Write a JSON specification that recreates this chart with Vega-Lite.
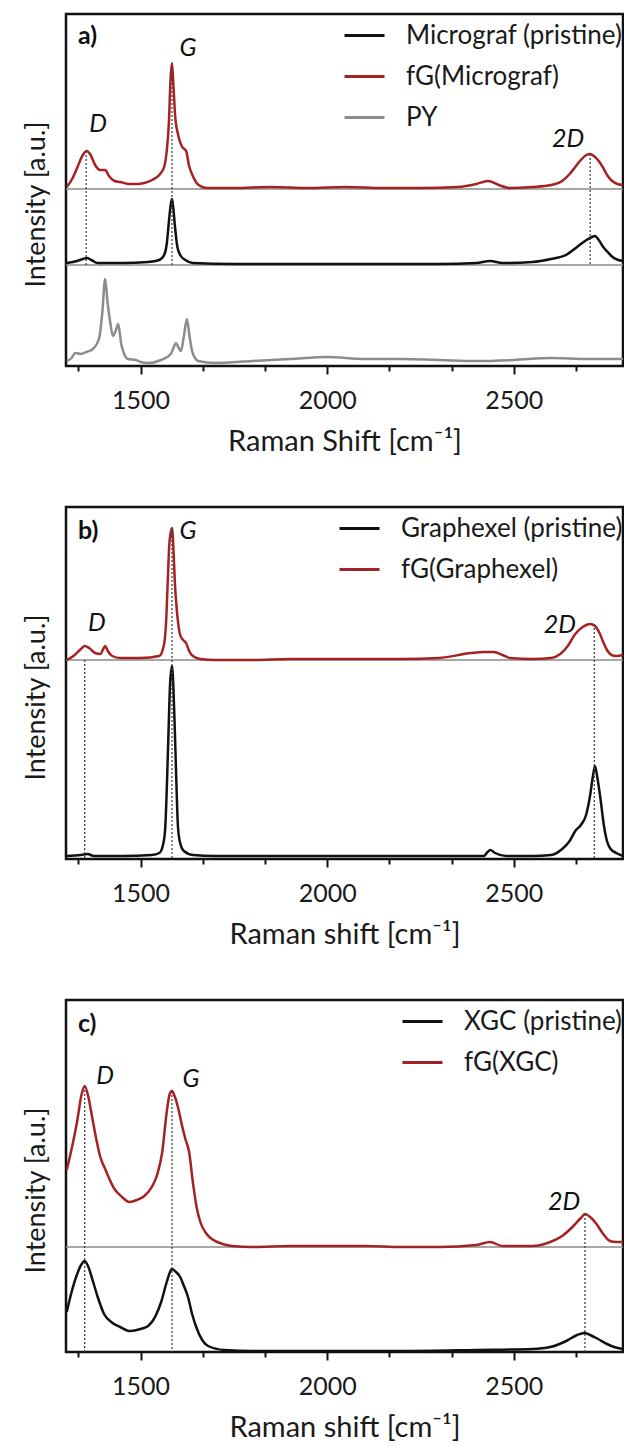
{
  "$schema": "https://vega.github.io/schema/vega-lite/v6.json",
  "padding": {"left": 20, "top": 12, "right": 2, "bottom": 0},
  "spacing": 47,
  "config": {
    "font": "Lato",
    "view": {"stroke": "#111", "strokeWidth": 2.5},
    "axis": {"labelFont": "Lato", "titleFont": "Lato", "titleFontWeight": "normal", "labelColor": "#1a1a1a", "titleColor": "#1a1a1a", "grid": false, "domain": false},
    "legend": {"title": null, "orient": "top-right", "offset": 0, "padding": 0, "symbolType": "stroke", "symbolSize": 1600, "symbolStrokeWidth": 3, "labelFont": "Lato", "labelFontSize": 26, "labelColor": "#1a1a1a", "labelOffset": 20, "rowPadding": 6, "labelLimit": 400}
  },
  "resolve": {"scale": {"color": "independent", "y": "independent"}, "legend": {"color": "independent"}},
  "datasets": {
    "a": [
      {"x":1302,"y":179,"s":"fG(Micrograf)"},{"x":1318,"y":188,"s":"fG(Micrograf)"},{"x":1332,"y":200,"s":"fG(Micrograf)"},{"x":1345,"y":211,"s":"fG(Micrograf)"},{"x":1356,"y":215,"s":"fG(Micrograf)"},{"x":1366,"y":211,"s":"fG(Micrograf)"},{"x":1378,"y":201,"s":"fG(Micrograf)"},{"x":1392,"y":196,"s":"fG(Micrograf)"},{"x":1405,"y":196,"s":"fG(Micrograf)"},{"x":1415,"y":190,"s":"fG(Micrograf)"},{"x":1430,"y":185,"s":"fG(Micrograf)"},{"x":1445,"y":184,"s":"fG(Micrograf)"},{"x":1470,"y":182,"s":"fG(Micrograf)"},{"x":1490,"y":182,"s":"fG(Micrograf)"},{"x":1510,"y":183,"s":"fG(Micrograf)"},{"x":1531,"y":186,"s":"fG(Micrograf)"},{"x":1550,"y":191,"s":"fG(Micrograf)"},{"x":1563,"y":199,"s":"fG(Micrograf)"},{"x":1570,"y":215,"s":"fG(Micrograf)"},{"x":1576,"y":245,"s":"fG(Micrograf)"},{"x":1580,"y":285,"s":"fG(Micrograf)"},{"x":1584,"y":303,"s":"fG(Micrograf)"},{"x":1588,"y":280,"s":"fG(Micrograf)"},{"x":1593,"y":248,"s":"fG(Micrograf)"},{"x":1600,"y":232,"s":"fG(Micrograf)"},{"x":1610,"y":220,"s":"fG(Micrograf)"},{"x":1617,"y":217,"s":"fG(Micrograf)"},{"x":1622,"y":215,"s":"fG(Micrograf)"},{"x":1630,"y":200,"s":"fG(Micrograf)"},{"x":1640,"y":190,"s":"fG(Micrograf)"},{"x":1650,"y":183,"s":"fG(Micrograf)"},{"x":1665,"y":179,"s":"fG(Micrograf)"},{"x":1680,"y":178,"s":"fG(Micrograf)"},{"x":1750,"y":178,"s":"fG(Micrograf)"},{"x":1850,"y":179,"s":"fG(Micrograf)"},{"x":1950,"y":178,"s":"fG(Micrograf)"},{"x":2050,"y":179,"s":"fG(Micrograf)"},{"x":2150,"y":178,"s":"fG(Micrograf)"},{"x":2250,"y":178,"s":"fG(Micrograf)"},{"x":2350,"y":179,"s":"fG(Micrograf)"},{"x":2400,"y":182,"s":"fG(Micrograf)"},{"x":2431,"y":185,"s":"fG(Micrograf)"},{"x":2460,"y":181,"s":"fG(Micrograf)"},{"x":2490,"y":178,"s":"fG(Micrograf)"},{"x":2550,"y":179,"s":"fG(Micrograf)"},{"x":2600,"y":181,"s":"fG(Micrograf)"},{"x":2630,"y":185,"s":"fG(Micrograf)"},{"x":2650,"y":192,"s":"fG(Micrograf)"},{"x":2665,"y":199,"s":"fG(Micrograf)"},{"x":2680,"y":206,"s":"fG(Micrograf)"},{"x":2695,"y":211,"s":"fG(Micrograf)"},{"x":2705,"y":212,"s":"fG(Micrograf)"},{"x":2715,"y":210,"s":"fG(Micrograf)"},{"x":2728,"y":205,"s":"fG(Micrograf)"},{"x":2740,"y":198,"s":"fG(Micrograf)"},{"x":2752,"y":190,"s":"fG(Micrograf)"},{"x":2764,"y":185,"s":"fG(Micrograf)"},{"x":2778,"y":182,"s":"fG(Micrograf)"},{"x":2793,"y":181,"s":"fG(Micrograf)"},
      {"x":1302,"y":103,"s":"Micrograf (pristine)"},{"x":1330,"y":105,"s":"Micrograf (pristine)"},{"x":1345,"y":107,"s":"Micrograf (pristine)"},{"x":1356,"y":108,"s":"Micrograf (pristine)"},{"x":1368,"y":106,"s":"Micrograf (pristine)"},{"x":1385,"y":103,"s":"Micrograf (pristine)"},{"x":1450,"y":103,"s":"Micrograf (pristine)"},{"x":1520,"y":104,"s":"Micrograf (pristine)"},{"x":1550,"y":106,"s":"Micrograf (pristine)"},{"x":1563,"y":111,"s":"Micrograf (pristine)"},{"x":1570,"y":122,"s":"Micrograf (pristine)"},{"x":1576,"y":145,"s":"Micrograf (pristine)"},{"x":1581,"y":162,"s":"Micrograf (pristine)"},{"x":1584,"y":167,"s":"Micrograf (pristine)"},{"x":1587,"y":160,"s":"Micrograf (pristine)"},{"x":1592,"y":140,"s":"Micrograf (pristine)"},{"x":1598,"y":120,"s":"Micrograf (pristine)"},{"x":1606,"y":111,"s":"Micrograf (pristine)"},{"x":1620,"y":106,"s":"Micrograf (pristine)"},{"x":1640,"y":103,"s":"Micrograf (pristine)"},{"x":1750,"y":102,"s":"Micrograf (pristine)"},{"x":1900,"y":102,"s":"Micrograf (pristine)"},{"x":2100,"y":102,"s":"Micrograf (pristine)"},{"x":2300,"y":102,"s":"Micrograf (pristine)"},{"x":2400,"y":103,"s":"Micrograf (pristine)"},{"x":2437,"y":105,"s":"Micrograf (pristine)"},{"x":2470,"y":103,"s":"Micrograf (pristine)"},{"x":2550,"y":104,"s":"Micrograf (pristine)"},{"x":2600,"y":107,"s":"Micrograf (pristine)"},{"x":2640,"y":111,"s":"Micrograf (pristine)"},{"x":2670,"y":119,"s":"Micrograf (pristine)"},{"x":2695,"y":126,"s":"Micrograf (pristine)"},{"x":2710,"y":129,"s":"Micrograf (pristine)"},{"x":2718,"y":130,"s":"Micrograf (pristine)"},{"x":2728,"y":126,"s":"Micrograf (pristine)"},{"x":2740,"y":119,"s":"Micrograf (pristine)"},{"x":2752,"y":114,"s":"Micrograf (pristine)"},{"x":2765,"y":109,"s":"Micrograf (pristine)"},{"x":2780,"y":106,"s":"Micrograf (pristine)"},{"x":2793,"y":105,"s":"Micrograf (pristine)"},
      {"x":1302,"y":5,"s":"PY"},{"x":1315,"y":8,"s":"PY"},{"x":1325,"y":13,"s":"PY"},{"x":1340,"y":12,"s":"PY"},{"x":1355,"y":14,"s":"PY"},{"x":1372,"y":17,"s":"PY"},{"x":1389,"y":28,"s":"PY"},{"x":1397,"y":52,"s":"PY"},{"x":1405,"y":87,"s":"PY"},{"x":1411,"y":65,"s":"PY"},{"x":1418,"y":45,"s":"PY"},{"x":1426,"y":30,"s":"PY"},{"x":1433,"y":35,"s":"PY"},{"x":1440,"y":42,"s":"PY"},{"x":1448,"y":22,"s":"PY"},{"x":1456,"y":12,"s":"PY"},{"x":1466,"y":7,"s":"PY"},{"x":1488,"y":6,"s":"PY"},{"x":1500,"y":4,"s":"PY"},{"x":1520,"y":3,"s":"PY"},{"x":1555,"y":6,"s":"PY"},{"x":1581,"y":12,"s":"PY"},{"x":1590,"y":20,"s":"PY"},{"x":1595,"y":23,"s":"PY"},{"x":1602,"y":18,"s":"PY"},{"x":1608,"y":15,"s":"PY"},{"x":1616,"y":30,"s":"PY"},{"x":1624,"y":47,"s":"PY"},{"x":1631,"y":30,"s":"PY"},{"x":1638,"y":15,"s":"PY"},{"x":1646,"y":8,"s":"PY"},{"x":1654,"y":5,"s":"PY"},{"x":1700,"y":3,"s":"PY"},{"x":1800,"y":5,"s":"PY"},{"x":1900,"y":7,"s":"PY"},{"x":2000,"y":9,"s":"PY"},{"x":2100,"y":7,"s":"PY"},{"x":2200,"y":7,"s":"PY"},{"x":2300,"y":6,"s":"PY"},{"x":2400,"y":5,"s":"PY"},{"x":2500,"y":6,"s":"PY"},{"x":2600,"y":8,"s":"PY"},{"x":2700,"y":7,"s":"PY"},{"x":2793,"y":7,"s":"PY"}
    ],
    "b": [
      {"x":1302,"y":199,"s":"fG(Graphexel)"},{"x":1320,"y":203,"s":"fG(Graphexel)"},{"x":1340,"y":210,"s":"fG(Graphexel)"},{"x":1350,"y":213,"s":"fG(Graphexel)"},{"x":1362,"y":211,"s":"fG(Graphexel)"},{"x":1378,"y":206,"s":"fG(Graphexel)"},{"x":1392,"y":205,"s":"fG(Graphexel)"},{"x":1400,"y":210,"s":"fG(Graphexel)"},{"x":1405,"y":213,"s":"fG(Graphexel)"},{"x":1412,"y":208,"s":"fG(Graphexel)"},{"x":1424,"y":203,"s":"fG(Graphexel)"},{"x":1445,"y":201,"s":"fG(Graphexel)"},{"x":1500,"y":201,"s":"fG(Graphexel)"},{"x":1550,"y":203,"s":"fG(Graphexel)"},{"x":1563,"y":215,"s":"fG(Graphexel)"},{"x":1568,"y":235,"s":"fG(Graphexel)"},{"x":1573,"y":280,"s":"fG(Graphexel)"},{"x":1577,"y":315,"s":"fG(Graphexel)"},{"x":1584,"y":331,"s":"fG(Graphexel)"},{"x":1588,"y":310,"s":"fG(Graphexel)"},{"x":1592,"y":275,"s":"fG(Graphexel)"},{"x":1598,"y":245,"s":"fG(Graphexel)"},{"x":1606,"y":224,"s":"fG(Graphexel)"},{"x":1614,"y":219,"s":"fG(Graphexel)"},{"x":1622,"y":216,"s":"fG(Graphexel)"},{"x":1630,"y":208,"s":"fG(Graphexel)"},{"x":1640,"y":203,"s":"fG(Graphexel)"},{"x":1660,"y":200,"s":"fG(Graphexel)"},{"x":1700,"y":199,"s":"fG(Graphexel)"},{"x":1800,"y":199,"s":"fG(Graphexel)"},{"x":1900,"y":200,"s":"fG(Graphexel)"},{"x":2000,"y":200,"s":"fG(Graphexel)"},{"x":2100,"y":200,"s":"fG(Graphexel)"},{"x":2200,"y":200,"s":"fG(Graphexel)"},{"x":2300,"y":201,"s":"fG(Graphexel)"},{"x":2386,"y":206,"s":"fG(Graphexel)"},{"x":2420,"y":207,"s":"fG(Graphexel)"},{"x":2447,"y":207,"s":"fG(Graphexel)"},{"x":2470,"y":204,"s":"fG(Graphexel)"},{"x":2490,"y":201,"s":"fG(Graphexel)"},{"x":2550,"y":200,"s":"fG(Graphexel)"},{"x":2600,"y":201,"s":"fG(Graphexel)"},{"x":2625,"y":205,"s":"fG(Graphexel)"},{"x":2645,"y":213,"s":"fG(Graphexel)"},{"x":2665,"y":225,"s":"fG(Graphexel)"},{"x":2685,"y":232,"s":"fG(Graphexel)"},{"x":2705,"y":235,"s":"fG(Graphexel)"},{"x":2718,"y":233,"s":"fG(Graphexel)"},{"x":2730,"y":226,"s":"fG(Graphexel)"},{"x":2740,"y":217,"s":"fG(Graphexel)"},{"x":2750,"y":209,"s":"fG(Graphexel)"},{"x":2762,"y":204,"s":"fG(Graphexel)"},{"x":2775,"y":203,"s":"fG(Graphexel)"},{"x":2793,"y":204,"s":"fG(Graphexel)"},
      {"x":1302,"y":3,"s":"Graphexel (pristine)"},{"x":1340,"y":4,"s":"Graphexel (pristine)"},{"x":1358,"y":5,"s":"Graphexel (pristine)"},{"x":1375,"y":3,"s":"Graphexel (pristine)"},{"x":1450,"y":3,"s":"Graphexel (pristine)"},{"x":1530,"y":4,"s":"Graphexel (pristine)"},{"x":1550,"y":6,"s":"Graphexel (pristine)"},{"x":1560,"y":14,"s":"Graphexel (pristine)"},{"x":1566,"y":31,"s":"Graphexel (pristine)"},{"x":1571,"y":80,"s":"Graphexel (pristine)"},{"x":1575,"y":130,"s":"Graphexel (pristine)"},{"x":1579,"y":175,"s":"Graphexel (pristine)"},{"x":1584,"y":193,"s":"Graphexel (pristine)"},{"x":1588,"y":170,"s":"Graphexel (pristine)"},{"x":1592,"y":125,"s":"Graphexel (pristine)"},{"x":1596,"y":75,"s":"Graphexel (pristine)"},{"x":1600,"y":33,"s":"Graphexel (pristine)"},{"x":1606,"y":16,"s":"Graphexel (pristine)"},{"x":1616,"y":8,"s":"Graphexel (pristine)"},{"x":1640,"y":4,"s":"Graphexel (pristine)"},{"x":1700,"y":3,"s":"Graphexel (pristine)"},{"x":1900,"y":3,"s":"Graphexel (pristine)"},{"x":2100,"y":3,"s":"Graphexel (pristine)"},{"x":2300,"y":3,"s":"Graphexel (pristine)"},{"x":2420,"y":3,"s":"Graphexel (pristine)"},{"x":2430,"y":7,"s":"Graphexel (pristine)"},{"x":2437,"y":9,"s":"Graphexel (pristine)"},{"x":2450,"y":6,"s":"Graphexel (pristine)"},{"x":2480,"y":3,"s":"Graphexel (pristine)"},{"x":2550,"y":3,"s":"Graphexel (pristine)"},{"x":2600,"y":4,"s":"Graphexel (pristine)"},{"x":2630,"y":10,"s":"Graphexel (pristine)"},{"x":2650,"y":18,"s":"Graphexel (pristine)"},{"x":2665,"y":28,"s":"Graphexel (pristine)"},{"x":2680,"y":34,"s":"Graphexel (pristine)"},{"x":2694,"y":44,"s":"Graphexel (pristine)"},{"x":2705,"y":64,"s":"Graphexel (pristine)"},{"x":2712,"y":82,"s":"Graphexel (pristine)"},{"x":2718,"y":93,"s":"Graphexel (pristine)"},{"x":2724,"y":82,"s":"Graphexel (pristine)"},{"x":2732,"y":62,"s":"Graphexel (pristine)"},{"x":2742,"y":33,"s":"Graphexel (pristine)"},{"x":2750,"y":18,"s":"Graphexel (pristine)"},{"x":2760,"y":10,"s":"Graphexel (pristine)"},{"x":2775,"y":6,"s":"Graphexel (pristine)"},{"x":2793,"y":3,"s":"Graphexel (pristine)"}
    ],
    "c": [
      {"x":1302,"y":182,"s":"fG(XGC)"},{"x":1315,"y":203,"s":"fG(XGC)"},{"x":1330,"y":231,"s":"fG(XGC)"},{"x":1342,"y":258,"s":"fG(XGC)"},{"x":1350,"y":266,"s":"fG(XGC)"},{"x":1360,"y":255,"s":"fG(XGC)"},{"x":1370,"y":235,"s":"fG(XGC)"},{"x":1380,"y":215,"s":"fG(XGC)"},{"x":1392,"y":195,"s":"fG(XGC)"},{"x":1405,"y":183,"s":"fG(XGC)"},{"x":1430,"y":163,"s":"fG(XGC)"},{"x":1450,"y":155,"s":"fG(XGC)"},{"x":1470,"y":150,"s":"fG(XGC)"},{"x":1490,"y":152,"s":"fG(XGC)"},{"x":1510,"y":156,"s":"fG(XGC)"},{"x":1530,"y":165,"s":"fG(XGC)"},{"x":1545,"y":178,"s":"fG(XGC)"},{"x":1558,"y":200,"s":"fG(XGC)"},{"x":1570,"y":240,"s":"fG(XGC)"},{"x":1578,"y":258,"s":"fG(XGC)"},{"x":1584,"y":261,"s":"fG(XGC)"},{"x":1592,"y":255,"s":"fG(XGC)"},{"x":1600,"y":245,"s":"fG(XGC)"},{"x":1610,"y":228,"s":"fG(XGC)"},{"x":1620,"y":213,"s":"fG(XGC)"},{"x":1630,"y":200,"s":"fG(XGC)"},{"x":1640,"y":170,"s":"fG(XGC)"},{"x":1650,"y":145,"s":"fG(XGC)"},{"x":1660,"y":130,"s":"fG(XGC)"},{"x":1675,"y":119,"s":"fG(XGC)"},{"x":1691,"y":113,"s":"fG(XGC)"},{"x":1720,"y":108,"s":"fG(XGC)"},{"x":1745,"y":106,"s":"fG(XGC)"},{"x":1800,"y":105,"s":"fG(XGC)"},{"x":1900,"y":106,"s":"fG(XGC)"},{"x":2000,"y":106,"s":"fG(XGC)"},{"x":2100,"y":106,"s":"fG(XGC)"},{"x":2200,"y":105,"s":"fG(XGC)"},{"x":2300,"y":105,"s":"fG(XGC)"},{"x":2400,"y":107,"s":"fG(XGC)"},{"x":2437,"y":110,"s":"fG(XGC)"},{"x":2470,"y":106,"s":"fG(XGC)"},{"x":2550,"y":106,"s":"fG(XGC)"},{"x":2598,"y":110,"s":"fG(XGC)"},{"x":2630,"y":116,"s":"fG(XGC)"},{"x":2660,"y":126,"s":"fG(XGC)"},{"x":2680,"y":134,"s":"fG(XGC)"},{"x":2691,"y":138,"s":"fG(XGC)"},{"x":2705,"y":135,"s":"fG(XGC)"},{"x":2720,"y":129,"s":"fG(XGC)"},{"x":2740,"y":118,"s":"fG(XGC)"},{"x":2758,"y":111,"s":"fG(XGC)"},{"x":2775,"y":110,"s":"fG(XGC)"},{"x":2793,"y":110,"s":"fG(XGC)"},
      {"x":1302,"y":40,"s":"XGC (pristine)"},{"x":1315,"y":60,"s":"XGC (pristine)"},{"x":1330,"y":78,"s":"XGC (pristine)"},{"x":1342,"y":88,"s":"XGC (pristine)"},{"x":1350,"y":91,"s":"XGC (pristine)"},{"x":1360,"y":85,"s":"XGC (pristine)"},{"x":1372,"y":71,"s":"XGC (pristine)"},{"x":1385,"y":55,"s":"XGC (pristine)"},{"x":1402,"y":38,"s":"XGC (pristine)"},{"x":1425,"y":29,"s":"XGC (pristine)"},{"x":1445,"y":25,"s":"XGC (pristine)"},{"x":1472,"y":21,"s":"XGC (pristine)"},{"x":1500,"y":23,"s":"XGC (pristine)"},{"x":1520,"y":26,"s":"XGC (pristine)"},{"x":1540,"y":36,"s":"XGC (pristine)"},{"x":1555,"y":50,"s":"XGC (pristine)"},{"x":1570,"y":70,"s":"XGC (pristine)"},{"x":1580,"y":81,"s":"XGC (pristine)"},{"x":1584,"y":83,"s":"XGC (pristine)"},{"x":1595,"y":80,"s":"XGC (pristine)"},{"x":1606,"y":75,"s":"XGC (pristine)"},{"x":1616,"y":66,"s":"XGC (pristine)"},{"x":1627,"y":55,"s":"XGC (pristine)"},{"x":1638,"y":38,"s":"XGC (pristine)"},{"x":1649,"y":25,"s":"XGC (pristine)"},{"x":1665,"y":12,"s":"XGC (pristine)"},{"x":1681,"y":6,"s":"XGC (pristine)"},{"x":1724,"y":2,"s":"XGC (pristine)"},{"x":1800,"y":1,"s":"XGC (pristine)"},{"x":2000,"y":1,"s":"XGC (pristine)"},{"x":2200,"y":1,"s":"XGC (pristine)"},{"x":2400,"y":2,"s":"XGC (pristine)"},{"x":2550,"y":3,"s":"XGC (pristine)"},{"x":2598,"y":5,"s":"XGC (pristine)"},{"x":2641,"y":11,"s":"XGC (pristine)"},{"x":2670,"y":17,"s":"XGC (pristine)"},{"x":2689,"y":19,"s":"XGC (pristine)"},{"x":2705,"y":17,"s":"XGC (pristine)"},{"x":2726,"y":13,"s":"XGC (pristine)"},{"x":2750,"y":8,"s":"XGC (pristine)"},{"x":2769,"y":5,"s":"XGC (pristine)"},{"x":2793,"y":3,"s":"XGC (pristine)"}
    ],
    "baseA": [{"y": 177}, {"y": 101}],
    "baseB": [{"y": 199}],
    "baseC": [{"y": 105}],
    "dotA": [{"x": 1354, "y": 215, "y2": 101}, {"x": 1584, "y": 303, "y2": 101}, {"x": 2705, "y": 212, "y2": 101}],
    "dotB": [{"x": 1350, "y": 199, "y2": 0}, {"x": 1584, "y": 331, "y2": 0}, {"x": 2716, "y": 235, "y2": 0}],
    "dotC": [{"x": 1350, "y": 266, "y2": 0}, {"x": 1584, "y": 261, "y2": 0}, {"x": 2691, "y": 138, "y2": 0}],
    "pkA": [{"x": 1386, "y": 242, "t": "D"}, {"x": 1627, "y": 318, "t": "G"}, {"x": 2646, "y": 227, "t": "2D"}],
    "pkB": [{"x": 1383, "y": 236, "t": "D"}, {"x": 1627, "y": 328, "t": "G"}, {"x": 2624, "y": 234, "t": "2D"}],
    "pkC": [{"x": 1405, "y": 276, "t": "D"}, {"x": 1635, "y": 273, "t": "G"}, {"x": 2635, "y": 150, "t": "2D"}],
    "lbA": [{"x": 1332, "y": 330, "t": "a)"}],
    "lbB": [{"x": 1332, "y": 328, "t": "b)"}],
    "lbC": [{"x": 1332, "y": 328, "t": "c)"}]
  },
  "vconcat": [
    {
      "width": 557, "height": 352,
      "resolve": {"axis": {"x": "independent", "y": "independent"}},
      "layer": [
        {"data": {"name": "baseA"}, "mark": {"type": "rule", "color": "#8a8a8a", "strokeWidth": 1.3},
         "encoding": {"y": {"field": "y", "type": "quantitative", "scale": {"domain": [0, 352], "nice": false, "zero": false}, "axis": null}}},
        {"data": {"name": "a"}, "mark": {"type": "line", "strokeWidth": 2.5, "interpolate": "monotone"},
         "encoding": {
           "x": {"field": "x", "type": "quantitative", "scale": {"domain": [1300, 2793], "nice": false, "zero": false},
                 "axis": {"title": "Raman Shift [cm⁻¹]", "orient": "bottom", "values": [1500, 2000, 2500], "format": "d", "labelOverlap": false, "labelFlush": false, "labelFontSize": 25, "titleFontSize": 29, "tickColor": "#111", "tickWidth": 2, "tickSize": 8, "labelPadding": 14, "titlePadding": 14}},
           "y": {"field": "y", "type": "quantitative", "scale": {"domain": [0, 352], "nice": false, "zero": false},
                 "axis": {"title": "Intensity [a.u.]", "orient": "left", "ticks": false, "labels": false, "titleFontSize": 27, "titlePadding": 16, "titleY": 190}},
           "color": {"field": "s", "type": "nominal", "scale": {"domain": ["Micrograf (pristine)", "fG(Micrograf)", "PY"], "range": ["#111111", "#a52222", "#8c8c8c"]}}
         }},
        {"data": {"name": "dotA"}, "mark": {"type": "rule", "color": "#444", "strokeWidth": 1.3, "strokeDash": [2, 2]},
         "encoding": {"x": {"field": "x", "type": "quantitative", "axis": {"title": null, "orient": "bottom", "values": [1333.33, 1666.67, 1833.33, 2166.67, 2333.33, 2666.67], "labels": false, "tickSize": 5, "tickWidth": 2, "tickColor": "#111"}}, "y": {"field": "y", "type": "quantitative", "axis": null}, "y2": {"field": "y2"}}},
        {"data": {"name": "pkA"}, "mark": {"type": "text", "fontSize": 25, "fontStyle": "italic", "align": "center", "baseline": "middle", "color": "#111"},
         "encoding": {"x": {"field": "x", "type": "quantitative", "axis": null}, "y": {"field": "y", "type": "quantitative", "axis": null}, "text": {"field": "t"}}},
        {"data": {"name": "lbA"}, "mark": {"type": "text", "fontSize": 25, "fontWeight": "bold", "align": "left", "baseline": "middle", "color": "#111"},
         "encoding": {"x": {"field": "x", "type": "quantitative", "axis": null}, "y": {"field": "y", "type": "quantitative", "axis": null}, "text": {"field": "t"}}}
      ]
    },
    {
      "width": 557, "height": 352,
      "resolve": {"axis": {"x": "independent", "y": "independent"}},
      "layer": [
        {"data": {"name": "baseB"}, "mark": {"type": "rule", "color": "#8a8a8a", "strokeWidth": 1.3},
         "encoding": {"y": {"field": "y", "type": "quantitative", "scale": {"domain": [0, 352], "nice": false, "zero": false}, "axis": null}}},
        {"data": {"name": "b"}, "mark": {"type": "line", "strokeWidth": 2.5, "interpolate": "monotone"},
         "encoding": {
           "x": {"field": "x", "type": "quantitative", "scale": {"domain": [1300, 2793], "nice": false, "zero": false},
                 "axis": {"title": "Raman shift [cm⁻¹]", "orient": "bottom", "values": [1500, 2000, 2500], "format": "d", "labelOverlap": false, "labelFlush": false, "labelFontSize": 25, "titleFontSize": 29, "tickColor": "#111", "tickWidth": 2, "tickSize": 8, "labelPadding": 14, "titlePadding": 14}},
           "y": {"field": "y", "type": "quantitative", "scale": {"domain": [0, 352], "nice": false, "zero": false},
                 "axis": {"title": "Intensity [a.u.]", "orient": "left", "ticks": false, "labels": false, "titleFontSize": 27, "titlePadding": 16, "titleY": 190}},
           "color": {"field": "s", "type": "nominal", "scale": {"domain": ["Graphexel (pristine)", "fG(Graphexel)"], "range": ["#111111", "#a52222"]}}
         }},
        {"data": {"name": "dotB"}, "mark": {"type": "rule", "color": "#444", "strokeWidth": 1.3, "strokeDash": [2, 2]},
         "encoding": {"x": {"field": "x", "type": "quantitative", "axis": {"title": null, "orient": "bottom", "values": [1333.33, 1666.67, 1833.33, 2166.67, 2333.33, 2666.67], "labels": false, "tickSize": 5, "tickWidth": 2, "tickColor": "#111"}}, "y": {"field": "y", "type": "quantitative", "axis": null}, "y2": {"field": "y2"}}},
        {"data": {"name": "pkB"}, "mark": {"type": "text", "fontSize": 25, "fontStyle": "italic", "align": "center", "baseline": "middle", "color": "#111"},
         "encoding": {"x": {"field": "x", "type": "quantitative", "axis": null}, "y": {"field": "y", "type": "quantitative", "axis": null}, "text": {"field": "t"}}},
        {"data": {"name": "lbB"}, "mark": {"type": "text", "fontSize": 25, "fontWeight": "bold", "align": "left", "baseline": "middle", "color": "#111"},
         "encoding": {"x": {"field": "x", "type": "quantitative", "axis": null}, "y": {"field": "y", "type": "quantitative", "axis": null}, "text": {"field": "t"}}}
      ]
    },
    {
      "width": 557, "height": 352,
      "resolve": {"axis": {"x": "independent", "y": "independent"}},
      "layer": [
        {"data": {"name": "baseC"}, "mark": {"type": "rule", "color": "#8a8a8a", "strokeWidth": 1.3},
         "encoding": {"y": {"field": "y", "type": "quantitative", "scale": {"domain": [0, 352], "nice": false, "zero": false}, "axis": null}}},
        {"data": {"name": "c"}, "mark": {"type": "line", "strokeWidth": 2.5, "interpolate": "monotone"},
         "encoding": {
           "x": {"field": "x", "type": "quantitative", "scale": {"domain": [1300, 2793], "nice": false, "zero": false},
                 "axis": {"title": "Raman shift [cm⁻¹]", "orient": "bottom", "values": [1500, 2000, 2500], "format": "d", "labelOverlap": false, "labelFlush": false, "labelFontSize": 25, "titleFontSize": 29, "tickColor": "#111", "tickWidth": 2, "tickSize": 8, "labelPadding": 14, "titlePadding": 14}},
           "y": {"field": "y", "type": "quantitative", "scale": {"domain": [0, 352], "nice": false, "zero": false},
                 "axis": {"title": "Intensity [a.u.]", "orient": "left", "ticks": false, "labels": false, "titleFontSize": 27, "titlePadding": 16, "titleY": 190}},
           "color": {"field": "s", "type": "nominal", "scale": {"domain": ["XGC (pristine)", "fG(XGC)"], "range": ["#111111", "#a52222"]}}
         }},
        {"data": {"name": "dotC"}, "mark": {"type": "rule", "color": "#444", "strokeWidth": 1.3, "strokeDash": [2, 2]},
         "encoding": {"x": {"field": "x", "type": "quantitative", "axis": {"title": null, "orient": "bottom", "values": [1333.33, 1666.67, 1833.33, 2166.67, 2333.33, 2666.67], "labels": false, "tickSize": 5, "tickWidth": 2, "tickColor": "#111"}}, "y": {"field": "y", "type": "quantitative", "axis": null}, "y2": {"field": "y2"}}},
        {"data": {"name": "pkC"}, "mark": {"type": "text", "fontSize": 25, "fontStyle": "italic", "align": "center", "baseline": "middle", "color": "#111"},
         "encoding": {"x": {"field": "x", "type": "quantitative", "axis": null}, "y": {"field": "y", "type": "quantitative", "axis": null}, "text": {"field": "t"}}},
        {"data": {"name": "lbC"}, "mark": {"type": "text", "fontSize": 25, "fontWeight": "bold", "align": "left", "baseline": "middle", "color": "#111"},
         "encoding": {"x": {"field": "x", "type": "quantitative", "axis": null}, "y": {"field": "y", "type": "quantitative", "axis": null}, "text": {"field": "t"}}}
      ]
    }
  ]
}
